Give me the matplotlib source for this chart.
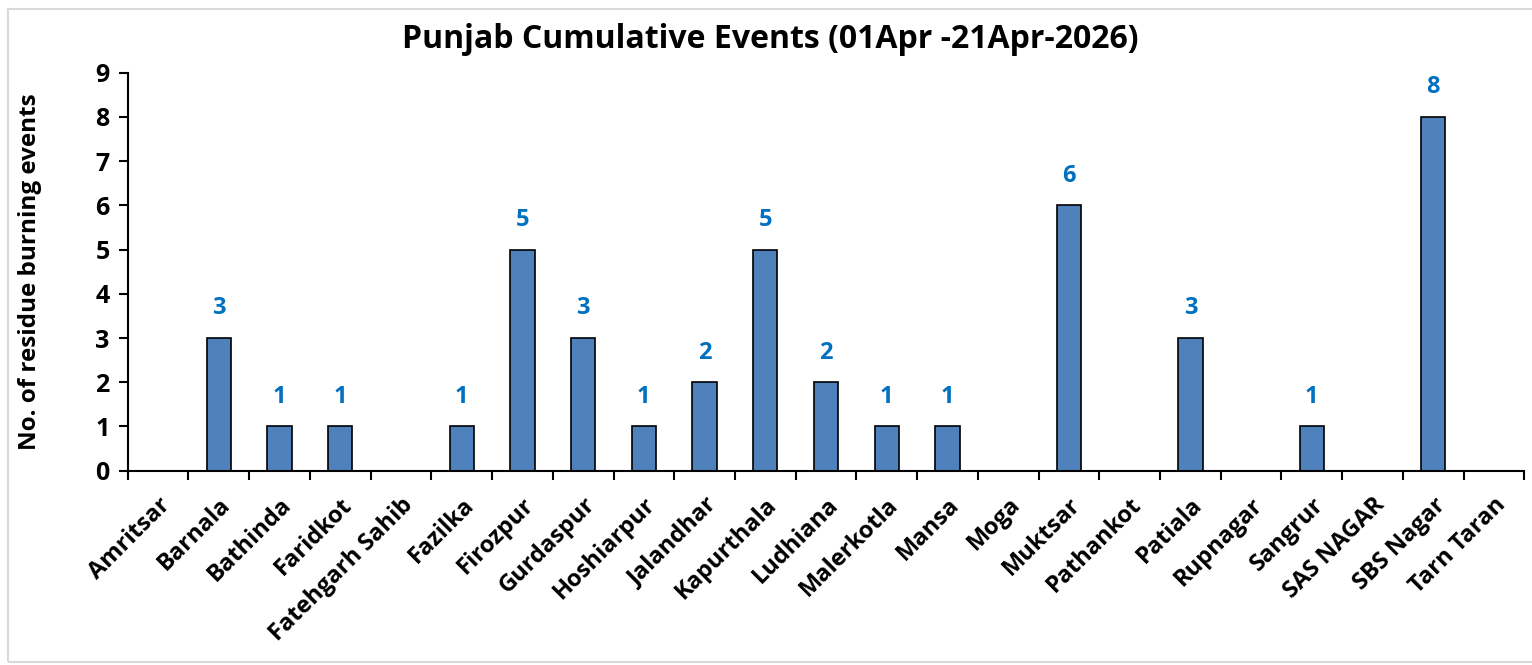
import matplotlib.pyplot as plt
import matplotlib.patches as mpatches
import numpy as np

districts = ["Amritsar", "Barnala", "Bathinda", "Faridkot", "Fatehgarh Sahib",
             "Fazilka", "Firozpur", "Gurdaspur", "Hoshiarpur", "Jalandhar",
             "Kapurthala", "Ludhiana", "Malerkotla", "Mansa", "Moga", "Muktsar",
             "Pathankot", "Patiala", "Rupnagar", "Sangrur", "SAS NAGAR",
             "SBS Nagar", "Tarn Taran"]
events = [0, 3, 1, 1, 0, 1, 5, 3, 1, 2, 5, 2, 1, 1, 0, 6, 0, 3, 0, 1, 0, 8, 0]

plt.rcParams['font.family'] = ['Open Sans', 'DejaVu Sans']
plt.rcParams['font.weight'] = 'bold'

fig = plt.figure(figsize=(15.32, 6.65), dpi=100)
ax = fig.add_axes([0.0834, 0.2922, 0.9116, 0.5985])

# light chart border
fig.patches.append(mpatches.Rectangle((8/1532, 3/665), 1530/1532, 653/665,
                                      transform=fig.transFigure, fill=False,
                                      edgecolor='#D9D9D9', linewidth=1.5))

x = np.arange(len(districts))
ax.bar(x, events, width=0.4, color='#4F81BD', edgecolor='black', linewidth=1.2, zorder=2)

for xi, v in zip(x, events):
    if v > 0:
        ax.text(xi, v + 0.4, str(v), ha='center', va='bottom', color='#0070C0',
                fontsize=17, fontweight='bold')

ax.set_xlim(-0.5, len(districts) - 0.5)
ax.set_ylim(0, 9)
ax.set_yticks(range(10))
ax.tick_params(axis='y', labelsize=18, width=1.5, length=6.5, direction='out', pad=6.5)
ax.set_xticks(x)
ax.set_xticklabels(districts, rotation=45, ha='right', rotation_mode='anchor', fontsize=17)
ax.tick_params(axis='x', length=0, pad=16)
ax.set_xticks(np.arange(-0.5, len(districts), 1), minor=True)
ax.tick_params(axis='x', which='minor', length=6.5, width=1.5, direction='out')

for s in ['top', 'right']:
    ax.spines[s].set_visible(False)
for s in ['left', 'bottom']:
    ax.spines[s].set_linewidth(1.5)

ax.set_ylabel("No. of residue burning events", fontsize=17.5, fontweight='bold')
ax.yaxis.set_label_coords(-0.0614, 0.5)
fig.text(0.503, 0.94, "Punjab Cumulative Events (01Apr -21Apr-2026)", ha='center', va='center',
         fontsize=23, fontweight='bold')

plt.savefig('out.png', dpi=100)
